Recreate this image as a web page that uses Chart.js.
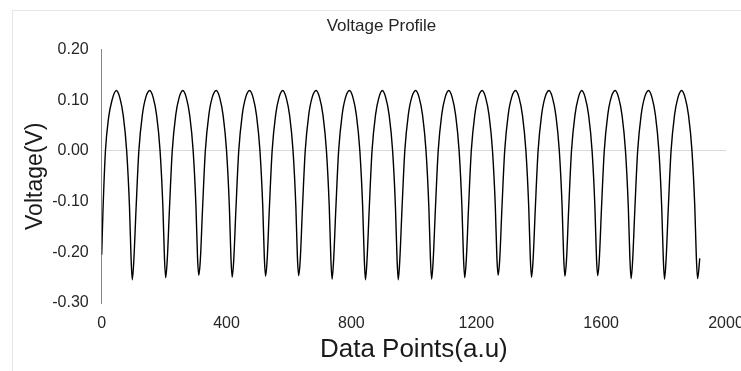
<!DOCTYPE html>
<html lang="en">
<head>
    <meta charset="UTF-8">
    <title>Voltage Profile</title>
    <script src="https://cdn.jsdelivr.net/npm/chart.js"></script>
    <style>
        * {
            margin: 0;
            padding: 0;
            box-sizing: border-box;
        }

        body {
            background: white;
            width: 741px;
            height: 371px;
            overflow: hidden;
        }
    </style>
</head>
<body>
    <canvas id="voltageChart" width="741" height="371"></canvas>

    <script>
        // Data points (x), one cycle per line
        const dataPoints = [
            0, 4, 12, 22, 33, 47, 58, 69, 80, 89, 94,
            98, 103, 110, 119, 130, 141, 154, 165, 176, 187, 196, 201,
            205, 210, 217, 226, 237, 248, 260, 271, 282, 293, 302, 307,
            311, 316, 323, 332, 343, 354, 367, 378, 389, 400, 409, 414,
            418, 423, 430, 439, 450, 461, 474, 485, 496, 507, 516, 521,
            525, 530, 537, 546, 557, 568, 580, 591, 602, 613, 622, 627,
            631, 636, 643, 652, 663, 674, 687, 698, 709, 720, 729, 734,
            738, 743, 750, 759, 770, 781, 794, 805, 816, 827, 836, 841,
            845, 850, 857, 866, 877, 888, 899, 910, 921, 932, 941, 946,
            950, 955, 962, 971, 982, 993, 1006, 1017, 1028, 1039, 1048, 1053,
            1057, 1062, 1069, 1078, 1089, 1100, 1112, 1123, 1134, 1145, 1154, 1159,
            1163, 1168, 1175, 1184, 1195, 1206, 1219, 1230, 1241, 1252, 1261, 1266,
            1270, 1275, 1282, 1291, 1302, 1313, 1326, 1337, 1348, 1359, 1368, 1373,
            1377, 1382, 1389, 1398, 1409, 1420, 1433, 1444, 1455, 1466, 1475, 1480,
            1484, 1489, 1496, 1505, 1516, 1527, 1538, 1549, 1560, 1571, 1580, 1585,
            1589, 1594, 1601, 1610, 1621, 1632, 1645, 1656, 1667, 1678, 1687, 1692,
            1696, 1701, 1708, 1717, 1728, 1739, 1752, 1763, 1774, 1785, 1794, 1799,
            1803, 1808, 1815, 1824, 1835, 1846, 1858, 1869, 1880, 1891, 1900, 1905,
            1909, 1916
        ];

        // Voltage (V), same layout as above
        const voltage = [
            -0.205, -0.12, 0, 0.065, 0.10, 0.119, 0.105, 0.07, 0, -0.11, -0.21,
            -0.254, -0.215, -0.115, 0, 0.07, 0.105, 0.119, 0.105, 0.07, 0, -0.11, -0.21,
            -0.250, -0.215, -0.115, 0, 0.07, 0.105, 0.119, 0.105, 0.07, 0, -0.11, -0.21,
            -0.245, -0.215, -0.115, 0, 0.07, 0.105, 0.119, 0.105, 0.07, 0, -0.11, -0.21,
            -0.249, -0.215, -0.115, 0, 0.07, 0.105, 0.119, 0.105, 0.07, 0, -0.11, -0.21,
            -0.247, -0.215, -0.115, 0, 0.07, 0.105, 0.119, 0.105, 0.07, 0, -0.11, -0.21,
            -0.246, -0.215, -0.115, 0, 0.07, 0.105, 0.119, 0.105, 0.07, 0, -0.11, -0.21,
            -0.253, -0.215, -0.115, 0, 0.07, 0.105, 0.119, 0.105, 0.07, 0, -0.11, -0.21,
            -0.254, -0.215, -0.115, 0, 0.07, 0.105, 0.119, 0.105, 0.07, 0, -0.11, -0.21,
            -0.254, -0.215, -0.115, 0, 0.07, 0.105, 0.119, 0.105, 0.07, 0, -0.11, -0.21,
            -0.253, -0.215, -0.115, 0, 0.07, 0.105, 0.119, 0.105, 0.07, 0, -0.11, -0.21,
            -0.250, -0.215, -0.115, 0, 0.07, 0.105, 0.119, 0.105, 0.07, 0, -0.11, -0.21,
            -0.245, -0.215, -0.115, 0, 0.07, 0.105, 0.119, 0.105, 0.07, 0, -0.11, -0.21,
            -0.249, -0.215, -0.115, 0, 0.07, 0.105, 0.119, 0.105, 0.07, 0, -0.11, -0.21,
            -0.247, -0.215, -0.115, 0, 0.07, 0.105, 0.119, 0.105, 0.07, 0, -0.11, -0.21,
            -0.246, -0.215, -0.115, 0, 0.07, 0.105, 0.119, 0.105, 0.07, 0, -0.11, -0.21,
            -0.252, -0.215, -0.115, 0, 0.07, 0.105, 0.119, 0.105, 0.07, 0, -0.11, -0.21,
            -0.253, -0.215, -0.115, 0, 0.07, 0.105, 0.119, 0.105, 0.07, 0, -0.11, -0.21,
            -0.252, -0.212
        ];

        const xTicks = [0, 400, 800, 1200, 1600, 2000];
        const yTicks = [-0.30, -0.20, -0.10, 0.00, 0.10, 0.20];

        const fontFamily = "'Liberation Sans', Arial, sans-serif";

        // white background + thin grey frame like the original
        const framePlugin = {
            id: 'frame',
            afterLayout(chart) {
                // title sits a bit right of the canvas centre in the original
                const tb = chart.titleBlock;
                if (tb) tb.left = 2 * 381.5 - tb.right;
            },
            beforeDraw(chart) {
                const ctx = chart.ctx;
                ctx.save();
                ctx.fillStyle = 'white';
                ctx.fillRect(0, 0, chart.width, chart.height);
                ctx.strokeStyle = '#e6e6e6';
                ctx.lineWidth = 1;
                ctx.strokeRect(12.5, 10.5, 900, 500);
                ctx.restore();
            }
        };

        const voltageChart = new Chart(document.getElementById('voltageChart'), {
            type: 'line',
            data: {
                datasets: [{
                    label: 'Voltage',
                    data: dataPoints.map((x, i) => ({ x: x, y: voltage[i] })),
                    borderColor: '#000',
                    borderWidth: 1.4,
                    pointRadius: 0,
                    cubicInterpolationMode: 'monotone',
                    fill: false
                }]
            },
            options: {
                responsive: false,
                animation: false,
                layout: {
                    padding: { left: 0, right: 15, top: 0, bottom: 0 }
                },
                plugins: {
                    legend: { display: false },
                    tooltip: { enabled: false },
                    title: {
                        display: true,
                        text: 'Voltage Profile',
                        color: '#262626',
                        font: { family: fontFamily, size: 17, weight: 'normal' },
                        padding: { top: 15.8, bottom: 13.3 }
                    }
                },
                scales: {
                    x: {
                        type: 'linear',
                        min: xTicks[0],
                        max: xTicks[xTicks.length - 1],
                        afterBuildTicks: scale => {
                            scale.ticks = xTicks.map(v => ({ value: v }));
                        },
                        afterFit: scale => {
                            scale.height = 68;
                            scale.paddingRight = 0;
                        },
                        grid: { display: false, drawTicks: false },
                        border: { display: false },
                        ticks: {
                            color: '#262626',
                            padding: 11,
                            maxRotation: 0,
                            font: { family: fontFamily, size: 16 },
                            callback: v => String(v)
                        },
                        title: {
                            display: true,
                            text: 'Data Points(a.u)',
                            color: '#1a1a1a',
                            font: { family: fontFamily, size: 26 },
                            padding: { top: 0, bottom: 5.4 }
                        }
                    },
                    y: {
                        min: yTicks[0],
                        max: yTicks[yTicks.length - 1],
                        afterBuildTicks: scale => {
                            scale.ticks = yTicks.map(v => ({ value: v }));
                        },
                        afterFit: scale => {
                            scale.width = 101.7;
                        },
                        grid: {
                            drawTicks: false,
                            color: ctx => Math.abs(ctx.tick.value) < 1e-9 ? '#d9d9d9' : 'rgba(0,0,0,0)',
                            lineWidth: 1
                        },
                        border: { display: true, color: '#868686', width: 1 },
                        ticks: {
                            color: '#262626',
                            padding: 13,
                            font: { family: fontFamily, size: 16 },
                            callback: v => v.toFixed(2)
                        },
                        title: {
                            display: true,
                            text: 'Voltage(V)',
                            color: '#1a1a1a',
                            font: { family: fontFamily, size: 23 },
                            padding: { top: 22, bottom: 0 }
                        }
                    }
                }
            },
            plugins: [framePlugin]
        });
    </script>
</body>
</html>
